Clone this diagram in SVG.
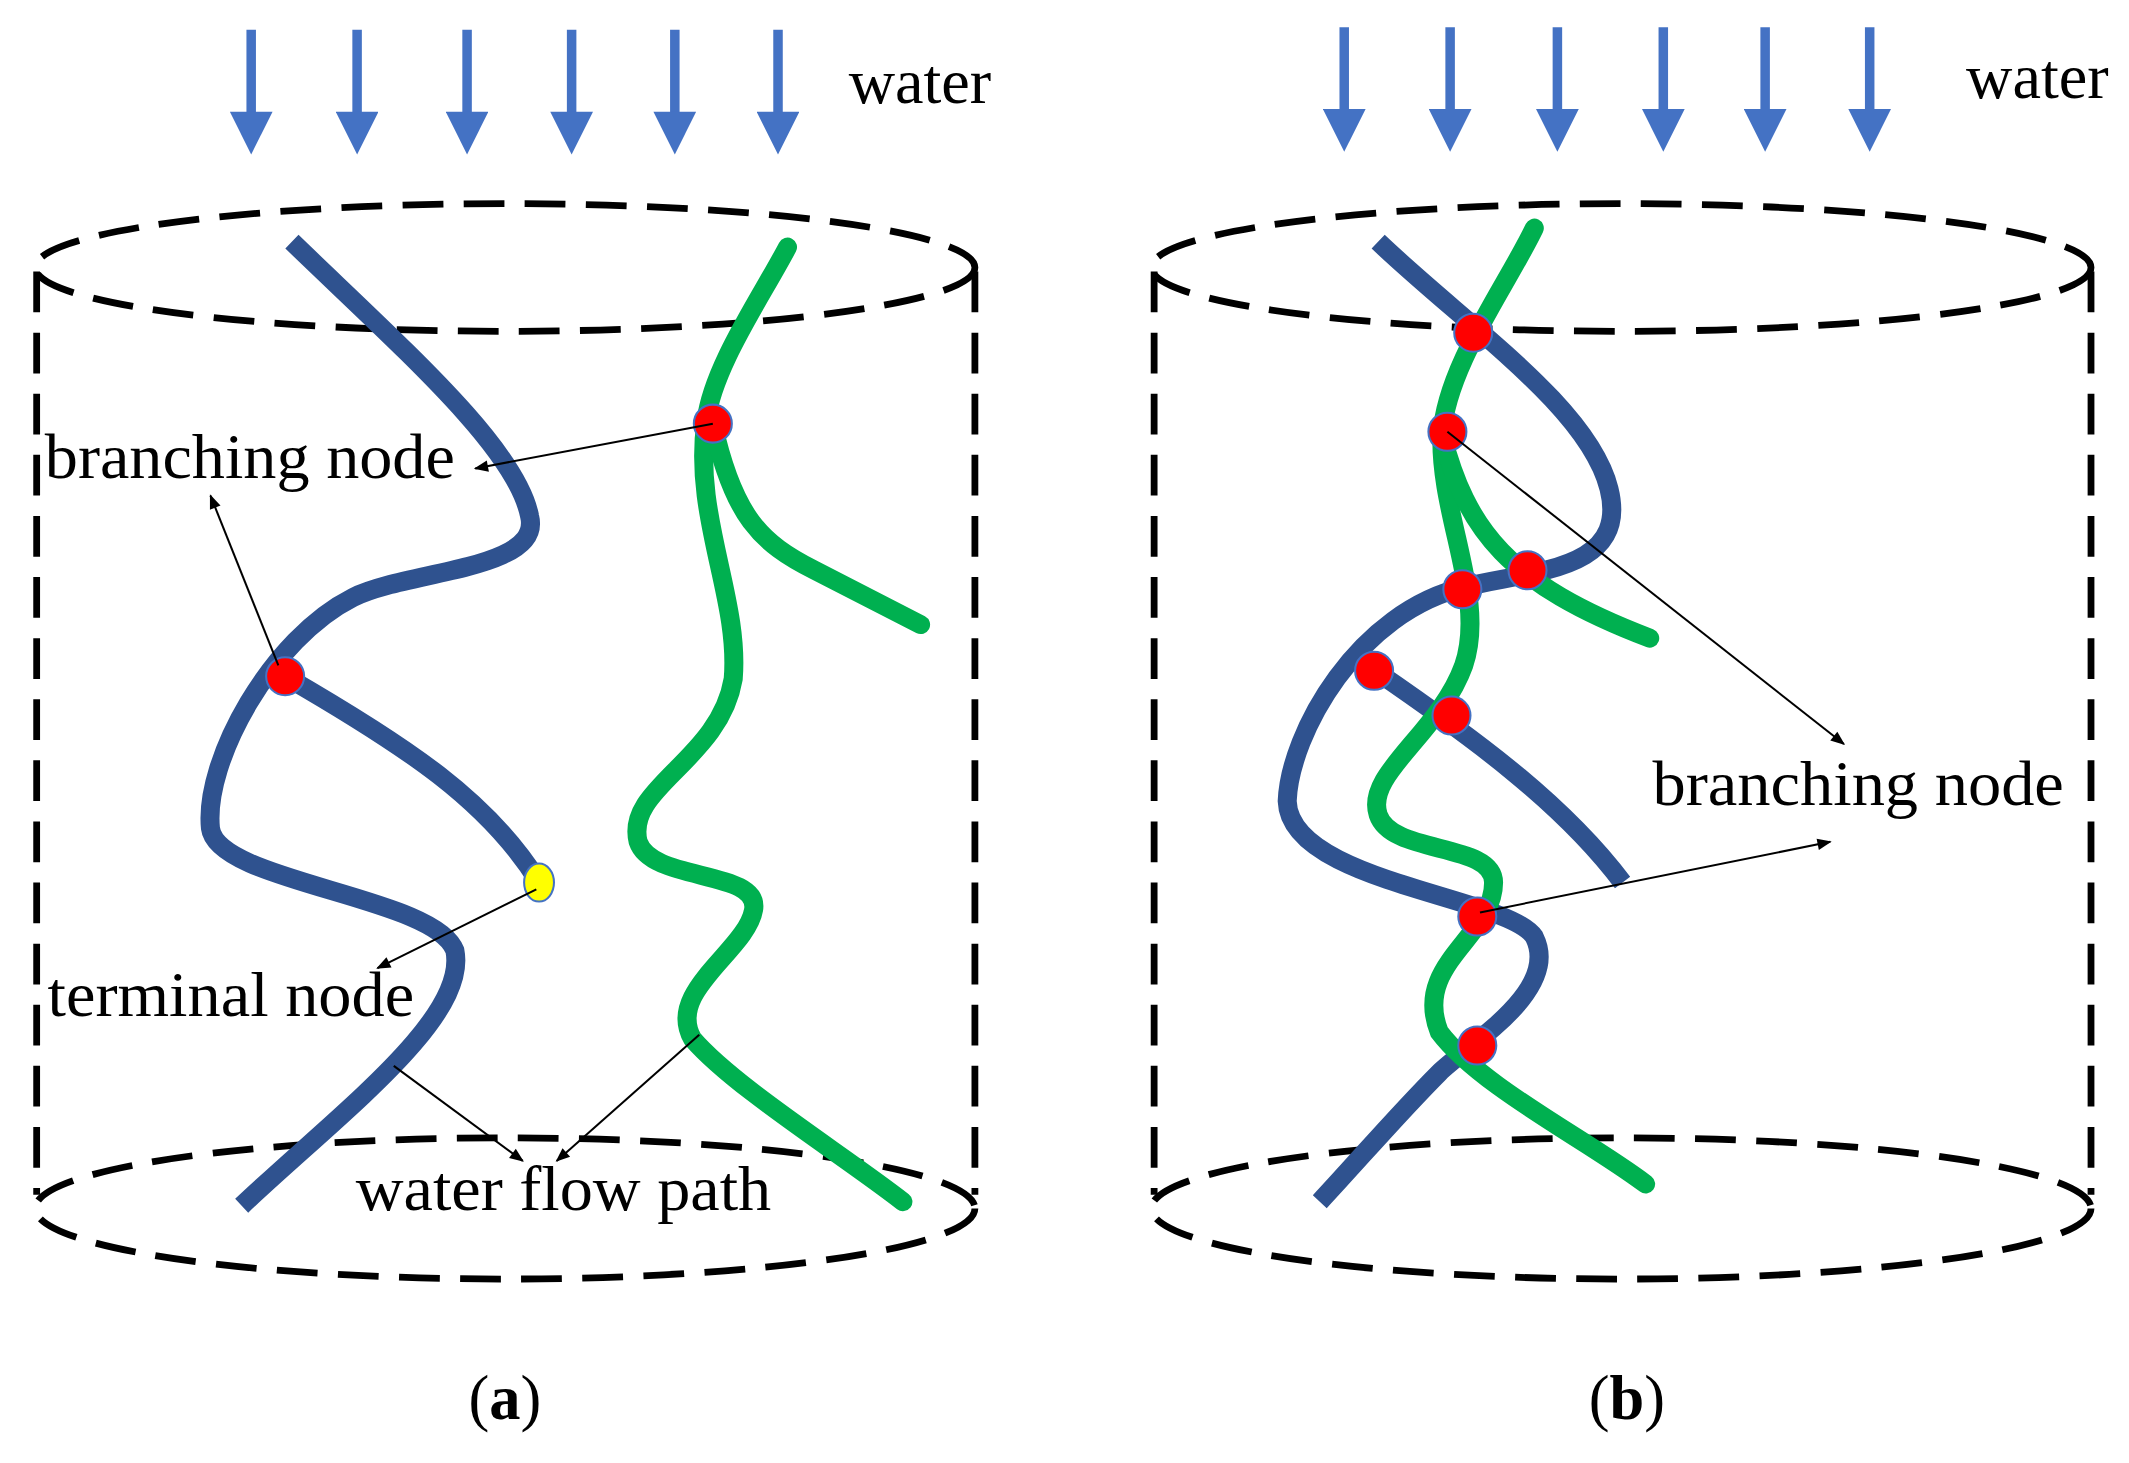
<svg xmlns="http://www.w3.org/2000/svg" width="2129" height="1463" viewBox="0 0 2129 1463">
<defs>
<style>
.cyl{fill:none;stroke:#000;stroke-width:5;stroke-dasharray:30 15}
.blue{fill:none;stroke:#2F528F;stroke-width:14;stroke-linecap:butt}
.green{fill:none;stroke:#00B050;stroke-width:14;stroke-linecap:round}
.wa{stroke:#4472C4;stroke-width:7;marker-end:url(#wh)}
.th{stroke:#000;stroke-width:1.5;fill:none;marker-end:url(#ah)}
.red{fill:#FF0000;stroke:#4472C4;stroke-width:1.5}
.lbl{font-family:"Liberation Serif",serif;font-size:46px;fill:#000}
</style>
<marker id="wh" viewBox="0 0 10 10" refX="5" refY="5" markerWidth="5" markerHeight="4.5" orient="auto" markerUnits="strokeWidth"><path d="M0,0L10,5L0,10z" fill="#4472C4"/></marker>
<marker id="ah" viewBox="0 0 10 10" refX="9" refY="5" markerWidth="9" markerHeight="7" orient="auto" markerUnits="strokeWidth"><path d="M0,1L10,5L0,9z" fill="#000"/></marker>
</defs>
<rect width="2129" height="1463" fill="#fff"/>
<g transform="scale(1.3578)">
<g id="panel-a">
<g id="water-a">
<line class="wa" x1="185" y1="22" x2="185" y2="98"/><line class="wa" x1="263" y1="22" x2="263" y2="98"/><line class="wa" x1="344" y1="22" x2="344" y2="98"/><line class="wa" x1="421" y1="22" x2="421" y2="98"/><line class="wa" x1="497" y1="22" x2="497" y2="98"/><line class="wa" x1="573" y1="22" x2="573" y2="98"/>
<text class="lbl" x="625" y="76" textLength="105" lengthAdjust="spacingAndGlyphs">water</text>
</g>
<g id="cylinder-a">
<ellipse class="cyl" cx="372" cy="197" rx="346" ry="47"/>
<line class="cyl" x1="27" y1="200" x2="27" y2="880"/><line class="cyl" x1="718" y1="200" x2="718" y2="880"/>
<ellipse class="cyl" cx="372" cy="890" rx="346" ry="52"/>
</g>
<g id="paths-a">
<path class="blue" d="M215,178 C300,260 380,330 390,380 C400,420 300,420 260,440 C200,470 150,560 155,610 C160,650 320,660 335,700 C345,750 250,820 178,888"/>
<path class="blue" d="M210,498 C300,550 360,590 397,650"/>
<path class="green" d="M580,182 C560,220 525,270 520,310 C510,380 545,440 540,500 C530,560 460,580 470,620 C480,650 560,640 555,670 C550,700 490,730 510,765 C540,800 620,850 665,885"/>
<path class="green" d="M525,312 C540,380 560,400 600,420 L678,460"/>
</g>
<g id="nodes-a">
<circle class="red" cx="525" cy="312" r="14"/><circle class="red" cx="210" cy="498" r="14"/>
<ellipse cx="397" cy="650" rx="11" ry="14" fill="#FFFF00" stroke="#4472C4" stroke-width="1.5"/>
</g>
<g id="connectors-a">
<line class="th" x1="525" y1="312" x2="350" y2="345"/>
<line class="th" x1="205" y1="490" x2="155" y2="365"/>
<line class="th" x1="395" y1="655" x2="278" y2="713"/>
<line class="th" x1="290" y1="785" x2="385" y2="855"/>
<line class="th" x1="515" y1="762" x2="410" y2="855"/>
</g>
<g id="labels-a">
<text class="lbl" x="33" y="352" textLength="302" lengthAdjust="spacingAndGlyphs">branching node</text>
<text class="lbl" x="35" y="748" textLength="270" lengthAdjust="spacingAndGlyphs">terminal node</text>
<text class="lbl" x="262" y="891" textLength="306" lengthAdjust="spacingAndGlyphs">water flow path</text>
<text class="lbl" x="345" y="1045">(<tspan font-weight="bold">a</tspan>)</text>
</g>
</g>
<g id="panel-b">
<g id="water-b">
<line class="wa" x1="990" y1="20" x2="990" y2="96"/><line class="wa" x1="1068" y1="20" x2="1068" y2="96"/><line class="wa" x1="1147" y1="20" x2="1147" y2="96"/><line class="wa" x1="1225" y1="20" x2="1225" y2="96"/><line class="wa" x1="1300" y1="20" x2="1300" y2="96"/><line class="wa" x1="1377" y1="20" x2="1377" y2="96"/>
<text class="lbl" x="1448" y="72" textLength="105" lengthAdjust="spacingAndGlyphs">water</text>
</g>
<g id="cylinder-b">
<ellipse class="cyl" cx="1194" cy="197" rx="346" ry="47"/>
<line class="cyl" x1="850" y1="200" x2="850" y2="880"/><line class="cyl" x1="1540" y1="200" x2="1540" y2="880"/>
<ellipse class="cyl" cx="1194" cy="890" rx="346" ry="52"/>
</g>
<g id="paths-b">
<path class="blue" d="M1015,178 C1080,240 1170,300 1185,360 C1200,420 1130,420 1080,432 C1000,450 950,540 948,590 C950,650 1110,660 1130,690 C1150,730 1080,770 1060,790 C1030,820 1000,855 972,885"/>
<path class="blue" d="M1013,494 C1080,540 1150,590 1195,650"/>
<path class="green" d="M1130,168 C1110,210 1065,270 1062,320 C1060,380 1095,440 1078,490 C1060,540 1005,570 1015,600 C1025,630 1100,620 1100,650 C1100,690 1040,710 1060,760 C1090,800 1170,840 1212,872"/>
<path class="green" d="M1062,320 C1080,390 1110,430 1215,470"/>
</g>
<g id="nodes-b">
<circle class="red" cx="1085" cy="245" r="14"/><circle class="red" cx="1066" cy="318" r="14"/><circle class="red" cx="1125" cy="420" r="14"/><circle class="red" cx="1077" cy="434" r="14"/><circle class="red" cx="1012" cy="494" r="14"/><circle class="red" cx="1069" cy="527" r="14"/><circle class="red" cx="1088" cy="675" r="14"/><circle class="red" cx="1088" cy="770" r="14"/>
</g>
<g id="connectors-b">
<line class="th" x1="1066" y1="318" x2="1358" y2="548"/>
<line class="th" x1="1090" y1="672" x2="1348" y2="620"/>
</g>
<g id="labels-b">
<text class="lbl" x="1217" y="593" textLength="303" lengthAdjust="spacingAndGlyphs">branching node</text>
<text class="lbl" x="1170" y="1045">(<tspan font-weight="bold">b</tspan>)</text>
</g>
</g>
</g>
</svg>
